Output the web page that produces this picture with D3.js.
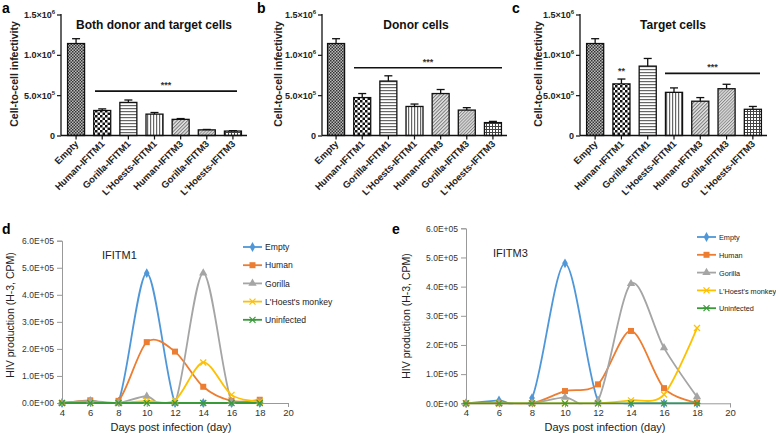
<!DOCTYPE html>
<meta charset="utf-8">
<head>
<style>
  body { margin: 0; background: #fff; }
  svg { display: block; }
  text { font-family: "Liberation Sans", Arial, sans-serif; }
</style>
</head>
<body>
<script src="https://cdn.jsdelivr.net/npm/d3@7"></script>
<script>

// ---- bar panel data (a, b, c) ----
var constructs = ["Empty", "Human-IFITM1", "Gorilla-IFITM1", "L'Hoests-IFITM1", "Human-IFITM3", "Gorilla-IFITM3", "L'Hoests-IFITM3"];
var patterns = ["pEmpty", "pCheck", "pHoriz", "pVert", "pDiag", "pDiag2", "pGrid"];

var bothMeans  = [1.14e6, 0.31e6, 0.41e6, 0.265e6, 0.20e6, 0.07e6, 0.055e6];
var bothErr    = [1.20e6, 0.33e6, 0.44e6, 0.285e6, 0.21e6, 0.075e6, 0.06e6];
var donorMeans = [1.14e6, 0.47e6, 0.675e6, 0.36e6, 0.52e6, 0.315e6, 0.16e6];
var donorErr   = [1.20e6, 0.52e6, 0.74e6, 0.39e6, 0.57e6, 0.345e6, 0.175e6];
var targetMeans = [1.14e6, 0.64e6, 0.86e6, 0.535e6, 0.425e6, 0.58e6, 0.325e6];
var targetErr   = [1.20e6, 0.70e6, 0.955e6, 0.59e6, 0.47e6, 0.635e6, 0.36e6];

var barTicks = [0, 5e5, 1e6, 1.5e6];
var barTickLabels = ["0", "5.0×10", "1.0×10", "1.5×10"];
var barTickExp = ["", "5", "6", "6"];

// ---- line panel data (d, e) ----
var days = [4, 6, 8, 10, 12, 14, 16, 18];
var seriesNames = ["Empty", "Human", "Gorilla", "L'Hoest's monkey", "Uninfected"];
var seriesColors = ["#4f97d8", "#ed7d31", "#a5a5a5", "#ffc000", "#3a9a3a"];

var m1Empty    = [0, 5000, 5000, 480000, 0, 0, 0, 0];
var m1Human    = [0, 10000, 8000, 225000, 190000, 60000, 8000, 12000];
var m1Gorilla  = [0, 8000, 0, 25000, 0, 480000, 5000, 5000];
var m1Hoest    = [0, 0, 0, 8000, 10000, 150000, 30000, 5000];
var m1Uninf    = [0, 0, 0, 0, 0, 0, 0, 0];

var m3Empty    = [0, 10000, 18000, 480000, 8000, 0, 0, 0];
var m3Human    = [0, 0, 0, 42000, 65000, 248000, 52000, 2000];
var m3Gorilla  = [0, 0, 0, 20000, 10000, 410000, 190000, 22000];
var m3Hoest    = [0, 0, 0, 0, 0, 10000, 30000, 258000];
var m3Uninf    = [0, 0, 0, 0, 0, 0, 0, 0];

var lineTicks = [0, 1e5, 2e5, 3e5, 4e5, 5e5, 6e5];
var lineTickLabels = ["0.0E+00", "1.0E+05", "2.0E+05", "3.0E+05", "4.0E+05", "5.0E+05", "6.0E+05"];
var dayTicks = [4, 6, 8, 10, 12, 14, 16, 18, 20];

var W = 776, H = 433;
var svg = d3.select("body").append("svg").attr("width", W).attr("height", H);

// fill patterns
var defs = svg.append("defs");
var p = defs.append("pattern").attr("id", "pEmpty").attr("width", 3).attr("height", 3).attr("patternUnits", "userSpaceOnUse");
p.append("rect").attr("width", 3).attr("height", 3).attr("fill", "#bbb");
p.append("rect").attr("width", 1.5).attr("height", 1.5).attr("fill", "#333");
p.append("rect").attr("x", 1.5).attr("y", 1.5).attr("width", 1.5).attr("height", 1.5).attr("fill", "#333");

p = defs.append("pattern").attr("id", "pCheck").attr("width", 5).attr("height", 5).attr("patternUnits", "userSpaceOnUse");
p.append("rect").attr("width", 5).attr("height", 5).attr("fill", "#fff");
p.append("rect").attr("width", 2.5).attr("height", 2.5).attr("fill", "#111");
p.append("rect").attr("x", 2.5).attr("y", 2.5).attr("width", 2.5).attr("height", 2.5).attr("fill", "#111");

p = defs.append("pattern").attr("id", "pHoriz").attr("width", 4).attr("height", 3).attr("patternUnits", "userSpaceOnUse");
p.append("rect").attr("width", 4).attr("height", 3).attr("fill", "#fff");
p.append("rect").attr("width", 4).attr("height", 1.2).attr("fill", "#666");

p = defs.append("pattern").attr("id", "pVert").attr("width", 3).attr("height", 4).attr("patternUnits", "userSpaceOnUse");
p.append("rect").attr("width", 3).attr("height", 4).attr("fill", "#fff");
p.append("rect").attr("width", 1.2).attr("height", 4).attr("fill", "#666");

p = defs.append("pattern").attr("id", "pDiag").attr("width", 2.5).attr("height", 4).attr("patternUnits", "userSpaceOnUse")
  .attr("patternTransform", "rotate(45)");
p.append("rect").attr("width", 2.5).attr("height", 4).attr("fill", "#e4e4e4");
p.append("rect").attr("width", 1).attr("height", 4).attr("fill", "#777");

p = defs.append("pattern").attr("id", "pDiag2").attr("width", 2.2).attr("height", 4).attr("patternUnits", "userSpaceOnUse")
  .attr("patternTransform", "rotate(45)");
p.append("rect").attr("width", 2.2).attr("height", 4).attr("fill", "#ddd");
p.append("rect").attr("width", 0.9).attr("height", 4).attr("fill", "#888");

p = defs.append("pattern").attr("id", "pGrid").attr("width", 3).attr("height", 3).attr("patternUnits", "userSpaceOnUse");
p.append("rect").attr("width", 3).attr("height", 3).attr("fill", "#fff");
p.append("rect").attr("width", 3).attr("height", 1).attr("fill", "#444");
p.append("rect").attr("width", 1).attr("height", 3).attr("fill", "#444");

function barPanel(cfg) {
  var g = svg.append("g");
  var x = d3.scaleBand().domain(constructs).range([cfg.x0, cfg.x1]).paddingInner(0.35).paddingOuter(0.175);
  var y = d3.scaleLinear().domain([0, 1.5e6]).range([135.5, 14.5]);

  // bars
  g.selectAll("rect.bar").data(cfg.means).enter().append("rect")
    .attr("x", function(d, i) { return x(constructs[i]); })
    .attr("y", function(d) { return y(d); })
    .attr("width", x.bandwidth())
    .attr("height", function(d) { return y(0) - y(d); })
    .attr("fill", function(d, i) { return "url(#" + patterns[i] + ")"; })
    .attr("stroke", "#111").attr("stroke-width", 1.3);

  // error bars
  var eb = g.selectAll("g.err").data(cfg.err).enter().append("g");
  eb.append("line")
    .attr("x1", function(d, i) { return x(constructs[i]) + x.bandwidth() / 2; })
    .attr("x2", function(d, i) { return x(constructs[i]) + x.bandwidth() / 2; })
    .attr("y1", function(d, i) { return y(cfg.means[i]); })
    .attr("y2", function(d) { return y(d); })
    .attr("stroke", "#111").attr("stroke-width", 1.3);
  eb.append("line")
    .attr("x1", function(d, i) { return x(constructs[i]) + x.bandwidth() / 2 - 4; })
    .attr("x2", function(d, i) { return x(constructs[i]) + x.bandwidth() / 2 + 4; })
    .attr("y1", function(d) { return y(d); })
    .attr("y2", function(d) { return y(d); })
    .attr("stroke", "#111").attr("stroke-width", 1.3);

  // y axis
  var ya = g.append("g").attr("transform", "translate(" + cfg.ax + ",0)")
    .call(d3.axisLeft(y).tickValues(barTicks).tickSize(4).tickFormat(""));
  ya.select(".domain").attr("stroke", "#111").attr("stroke-width", 1.3).attr("d", "M0," + y(0) + "V" + (y(1.5e6) - 0.5));
  ya.selectAll(".tick line").attr("stroke", "#111").attr("stroke-width", 1.2);
  barTicks.forEach(function(t, i) {
    var tx = g.append("text").attr("x", cfg.ax - 6).attr("y", y(t) + 3.5)
      .attr("text-anchor", "end").attr("font-size", 9).attr("font-weight", "bold").attr("fill", "#222");
    tx.append("tspan").text(barTickLabels[i]);
    if (barTickExp[i]) tx.append("tspan").attr("dy", -4).attr("font-size", 6).text(barTickExp[i]);
  });

  // x axis
  var xa = g.append("g").attr("transform", "translate(0," + y(0) + ")")
    .call(d3.axisBottom(x).tickSize(4).tickFormat(""));
  xa.select(".domain").attr("stroke", "#111").attr("stroke-width", 1.3).attr("d", "M" + cfg.ax + ",0H" + (cfg.x1 + 1));
  xa.selectAll(".tick line").attr("stroke", "#111").attr("stroke-width", 1.2);
  g.selectAll("text.xl").data(constructs).enter().append("text")
    .attr("transform", function(d) { return "translate(" + (x(d) + x.bandwidth() / 2 + 3) + "," + (y(0) + 9) + ") rotate(-45)"; })
    .attr("text-anchor", "end").attr("font-size", 9.5).attr("font-weight", "bold").attr("fill", "#222")
    .text(function(d) { return d; });

  // labels
  g.append("text").attr("transform", "translate(" + cfg.ylx + ",74) rotate(-90)")
    .attr("text-anchor", "middle").attr("font-size", 10.5).attr("font-weight", "bold").attr("fill", "#222")
    .text("Cell-to-cell infectivity");
  g.append("text").attr("x", cfg.tx).attr("y", 29).attr("text-anchor", "middle")
    .attr("font-size", 12).attr("font-weight", "bold").attr("fill", "#111").text(cfg.title);
  g.append("text").attr("x", cfg.lx).attr("y", 13).attr("font-size", 14).attr("font-weight", "bold").text(cfg.letter);

  // significance
  g.append("line").attr("x1", cfg.s0).attr("x2", cfg.s1).attr("y1", y(cfg.sv)).attr("y2", y(cfg.sv))
    .attr("stroke", "#111").attr("stroke-width", 1.6);
  g.append("text").attr("x", (cfg.s0 + cfg.s1) / 2).attr("y", y(cfg.sv) - 3).attr("text-anchor", "middle")
    .attr("font-size", 9).attr("font-weight", "bold").attr("fill", "#333").text("***");
  if (cfg.extra) {
    var i = cfg.extra;
    g.append("text").attr("x", x(constructs[i]) + x.bandwidth() / 2).attr("y", y(cfg.err[i]) - 5)
      .attr("text-anchor", "middle").attr("font-size", 9).attr("font-weight", "bold").attr("fill", "#333").text("**");
  }
}

barPanel({ letter: "a", lx: 2, ax: 61, x0: 63, x1: 246, ylx: 18, tx: 154, title: "Both donor and target cells",
  means: bothMeans, err: bothErr, s0: 95, s1: 237, sv: 0.55e6 });
barPanel({ letter: "b", lx: 257, ax: 322, x0: 323, x1: 506, ylx: 282, tx: 416, title: "Donor cells",
  means: donorMeans, err: donorErr, s0: 354, s1: 502, sv: 0.84e6 });
barPanel({ letter: "c", lx: 512, ax: 580, x0: 582, x1: 766, ylx: 542, tx: 673, title: "Target cells",
  means: targetMeans, err: targetErr, s0: 665, s1: 760, sv: 0.77e6, extra: 1 });

// ---- line panels ----
var symbols = [d3.symbolDiamond, d3.symbolSquare, d3.symbolTriangle, null, null];

function marker(g, k, cx, cy, color) {
  if (k === 3) {
    g.append("path").attr("d", "M" + (cx - 3) + "," + (cy - 3) + "L" + (cx + 3) + "," + (cy + 3) + "M" + (cx - 3) + "," + (cy + 3) + "L" + (cx + 3) + "," + (cy - 3))
      .attr("stroke", color).attr("stroke-width", 1.3);
  } else if (k === 4) {
    g.append("path").attr("d", "M" + (cx - 3) + "," + (cy - 3) + "L" + (cx + 3) + "," + (cy + 3) + "M" + (cx - 3) + "," + (cy + 3) + "L" + (cx + 3) + "," + (cy - 3) + "M" + (cx - 3.5) + "," + cy + "H" + (cx + 3.5))
      .attr("stroke", color).attr("stroke-width", 1.2);
  } else {
    var sz = k === 1 ? 36 : (k === 0 ? 28 : 30);
    g.append("path").attr("transform", "translate(" + cx + "," + cy + ")")
      .attr("d", d3.symbol().type(symbols[k]).size(sz)()).attr("fill", color);
  }
}

function linePanel(cfg) {
  var g = svg.append("g");
  var x = d3.scaleLinear().domain([4, 20]).range([cfg.x0, cfg.x1]);
  var y = d3.scaleLinear().domain([0, 6e5]).range([cfg.y0, cfg.y1]);

  // clip smoothed lines to the plot area, like the spreadsheet does
  defs.append("clipPath").attr("id", "clip" + cfg.letter).append("rect")
    .attr("x", cfg.x0).attr("y", cfg.y1 - 5).attr("width", cfg.x1 - cfg.x0).attr("height", cfg.y0 - cfg.y1 + 6);

  var ya = g.append("g").attr("transform", "translate(" + cfg.x0 + ",0)")
    .call(d3.axisLeft(y).tickValues(lineTicks).tickSize(5).tickFormat(function(d, i) { return lineTickLabels[i]; }));
  ya.select(".domain").attr("stroke", "#999");
  ya.selectAll(".tick line").attr("stroke", "#999");
  ya.selectAll(".tick text").attr("font-size", 8.5).attr("fill", "#333").attr("x", -8);

  var xa = g.append("g").attr("transform", "translate(0," + cfg.y0 + ")")
    .call(d3.axisBottom(x).tickValues(dayTicks).tickSize(4));
  xa.select(".domain").attr("stroke", "#999");
  xa.selectAll(".tick line").attr("stroke", "#999");
  xa.selectAll(".tick text").attr("font-size", 9.5).attr("fill", "#333").attr("y", 6);

  var line = d3.line().x(function(d, i) { return x(days[i]); }).y(function(d) { return y(d); })
    .curve(d3.curveCardinal.tension(0.1));

  var lg = g.append("g").attr("clip-path", "url(#clip" + cfg.letter + ")");
  cfg.series.forEach(function(s, k) {
    lg.append("path").datum(s).attr("d", line).attr("fill", "none")
      .attr("stroke", seriesColors[k]).attr("stroke-width", 1.8);
  });
  cfg.series.forEach(function(s, k) {
    s.forEach(function(v, i) { marker(g, k, x(days[i]), y(v), seriesColors[k]); });
  });

  // legend
  seriesNames.forEach(function(n, k) {
    var ly = cfg.ly + k * cfg.lstep;
    g.append("line").attr("x1", cfg.lx).attr("x2", cfg.lx + 19).attr("y1", ly).attr("y2", ly)
      .attr("stroke", seriesColors[k]).attr("stroke-width", 1.8);
    marker(g, k, cfg.lx + 9.5, ly, seriesColors[k]);
    g.append("text").attr("x", cfg.lx + 22).attr("y", ly + 3.2).attr("font-size", cfg.lfs)
      .attr("font-family", "Lato, 'Liberation Sans', sans-serif").attr("fill", "#222").text(n);
  });

  g.append("text").attr("x", cfg.tx).attr("y", cfg.ty).attr("font-size", 11).attr("fill", "#222").text(cfg.title);
  g.append("text").attr("transform", "translate(" + cfg.ylx + "," + cfg.yly + ") rotate(-90)")
    .attr("text-anchor", "middle").attr("font-size", 10.5).attr("fill", "#222").text("HIV production (H-3, CPM)");
  g.append("text").attr("x", cfg.xlc).attr("y", 431).attr("text-anchor", "middle")
    .attr("font-size", 11).attr("fill", "#222").text("Days post infection (day)");
  g.append("text").attr("x", cfg.lx0).attr("y", 234).attr("font-size", 14).attr("font-weight", "bold").text(cfg.letter);
}

linePanel({ letter: "d", lx0: 2, x0: 62, x1: 288, y0: 403, y1: 240.7, title: "IFITM1", tx: 102, ty: 259,
  ylx: 14, yly: 315, xlc: 171, lx: 243, ly: 247, lstep: 18.2, lfs: 8.6,
  series: [m1Empty, m1Human, m1Gorilla, m1Hoest, m1Uninf] });
linePanel({ letter: "e", lx0: 392, x0: 466, x1: 730, y0: 403.3, y1: 228.3, title: "IFITM3", tx: 493, ty: 257,
  ylx: 410, yly: 316, xlc: 605, lx: 697, ly: 237, lstep: 17.8, lfs: 7.3,
  series: [m3Empty, m3Human, m3Gorilla, m3Hoest, m3Uninf] });

</script>
</body>
